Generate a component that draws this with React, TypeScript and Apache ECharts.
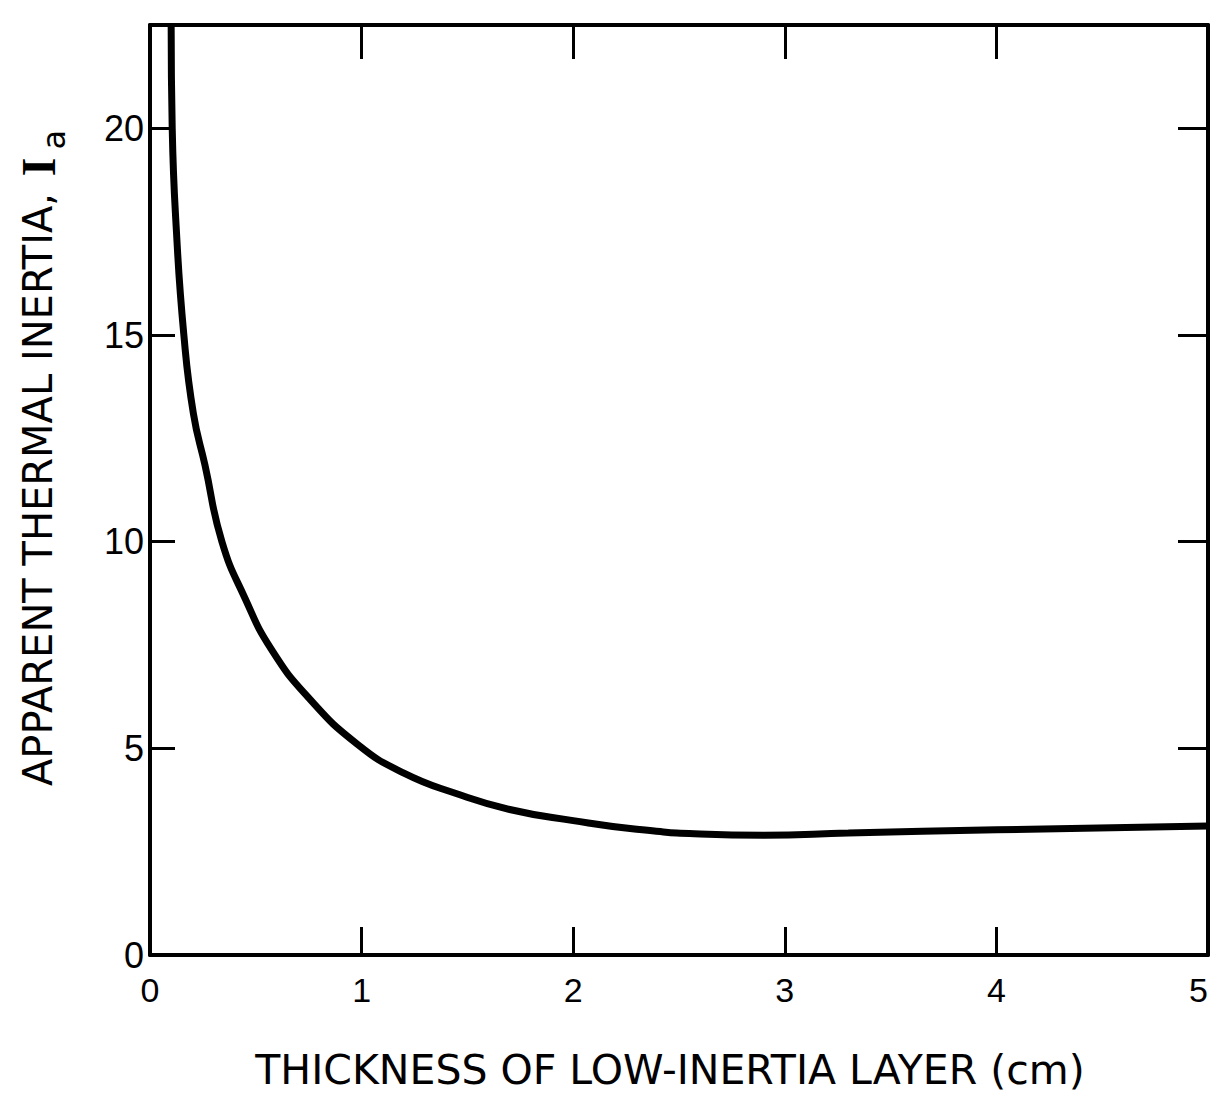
import React, { useEffect, useRef } from "react";
import * as echarts from "echarts";

// Layer thickness (cm) and apparent thermal inertia
const thickness = [0.1, 0.105, 0.125, 0.16, 0.205, 0.26, 0.34, 0.45, 0.573, 0.75, 0.98, 1.2, 1.45, 1.7, 2.0, 2.3, 2.6, 2.9, 3.3, 4.0, 5.0];
const inertia = [22.5, 20.0, 17.5, 15.0, 13.1, 11.85, 10.0, 8.62, 7.4, 6.22, 5.1, 4.4, 3.9, 3.52, 3.25, 3.04, 2.93, 2.9, 2.95, 3.03, 3.12];

const xTitle = "THICKNESS OF LOW-INERTIA LAYER (cm)";
const yTitle = "APPARENT THERMAL INERTIA, ";

const FONT = "DejaVu Sans";

export default function App() {
  const ref = useRef<HTMLDivElement>(null);
  useEffect(() => {
    if (!ref.current) return;
    const chart = echarts.init(ref.current, undefined, { renderer: "svg" });
    const lineStyle = { color: "#000", width: 4 };
    chart.setOption({
      animation: false,
      backgroundColor: "#fff",
      grid: { left: 142, top: 17, width: 1058, height: 930, containLabel: false, outerBoundsMode: "none" },
      xAxis: [
        {
          type: "value", min: 0, max: 5, interval: 1, position: "bottom",
          axisLine: { show: true, onZero: false, lineStyle },
          axisTick: { show: true, inside: true, length: 28, lineStyle: { color: "#000", width: 3 } },
          axisLabel: { color: "#000", fontSize: 34, fontFamily: "Liberation Sans", margin: 18, alignMaxLabel: "right" },
          splitLine: { show: false },
        },
        {
          type: "value", min: 0, max: 5, interval: 1, position: "top",
          axisLine: { show: true, onZero: false, lineStyle },
          axisTick: { show: true, inside: true, length: 34, lineStyle: { color: "#000", width: 3 } },
          axisLabel: { show: false },
          splitLine: { show: false },
        },
      ],
      yAxis: [
        {
          type: "value", min: 0, max: 22.5, interval: 5, position: "left",
          axisLine: { show: true, onZero: false, lineStyle },
          axisTick: { show: true, inside: true, length: 25, lineStyle: { color: "#000", width: 3 } },
          axisLabel: { color: "#000", fontSize: 36, fontFamily: "Liberation Sans", margin: 6, showMaxLabel: false,
            formatter: (v: number) => (v % 5 === 0 ? String(v) : "") },
          splitLine: { show: false },
        },
        {
          type: "value", min: 0, max: 22.5, interval: 5, position: "right",
          axisLine: { show: true, onZero: false, lineStyle },
          axisTick: { show: true, inside: true, length: 30, lineStyle: { color: "#000", width: 3 } },
          axisLabel: { show: false },
          splitLine: { show: false },
        },
      ],
      graphic: [
        {
          type: "text", x: 662, y: 1062,
          style: { text: xTitle, fill: "#000", font: `41px "${FONT}"`, textAlign: "center", textVerticalAlign: "middle" },
        },
        {
          type: "text", x: 30, y: 450, rotation: Math.PI / 2,
          style: {
            text: `{n|${yTitle}}{i|I}{s|a}`,
            fill: "#000", textAlign: "center", textVerticalAlign: "middle",
            rich: {
              n: { fontSize: 40, fontFamily: FONT, fill: "#000" },
              i: { fontSize: 48, fontFamily: "Liberation Serif", fontWeight: "bold", fill: "#000", padding: [0, 8, 0, 4] },
              s: { fontSize: 32, fontFamily: FONT, fill: "#000", padding: [32, 0, 0, 0] },
            },
          },
        },
      ],
      series: [
        {
          type: "line",
          xAxisIndex: 0, yAxisIndex: 0,
          data: thickness.map((t, i) => [t, inertia[i]]),
          showSymbol: false,
          smooth: 0.5,
          clip: true,
          lineStyle: { color: "#000", width: 7 },
        },
      ],
    });
    return () => chart.dispose();
  }, []);
  return <div ref={ref} style={{ width: 1203, height: 1095 }} />;
}
